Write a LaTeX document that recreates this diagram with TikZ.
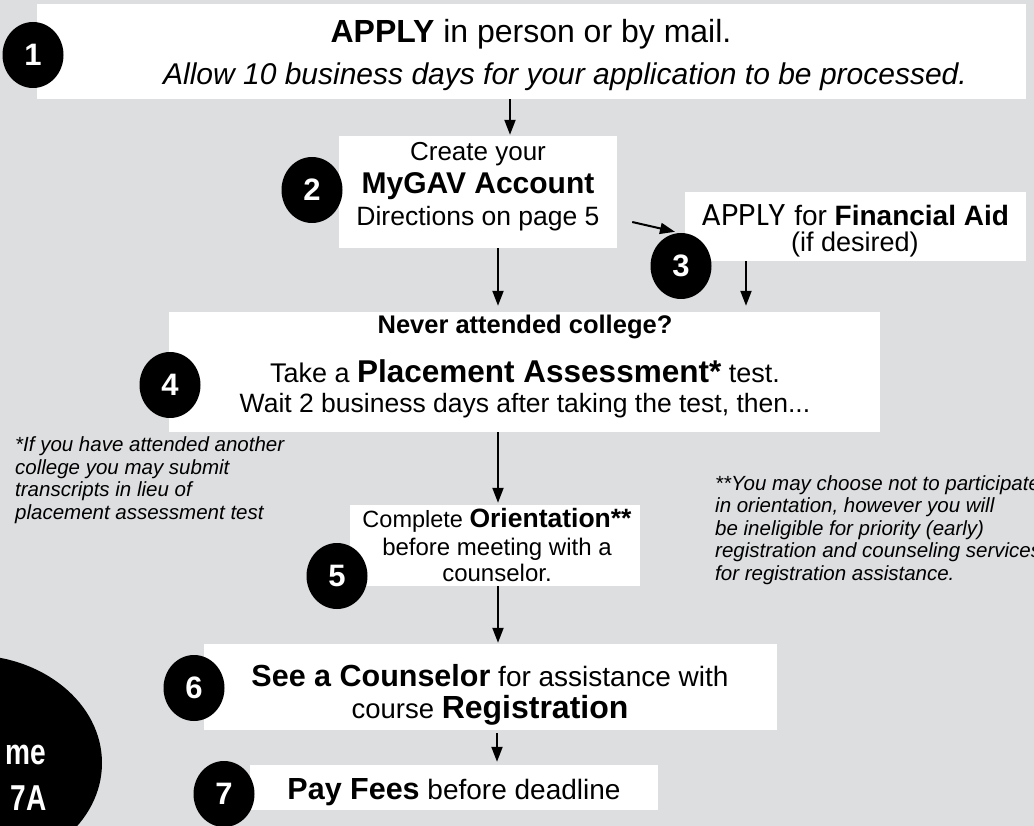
\documentclass[tikz,border=0pt]{standalone}
\usepackage{fontspec}
\setmainfont{Liberation Sans}
\newfontfamily\geo{Poppins}
\usetikzlibrary{shapes.geometric,arrows.meta}
\definecolor{bg}{RGB}{221,222,224}
\newcommand{\fs}[1]{\fontsize{#1}{#1}\selectfont}
\begin{document}
\begin{tikzpicture}[x=1pt,y=-1pt,
  box/.style={fill=white, inner sep=0pt, minimum width=#1},
  num/.style={ellipse, fill=black, text=white, inner sep=0pt, minimum width=61pt, minimum height=66pt, font=\fs{31}\bfseries},
  txt/.style={anchor=base, inner sep=0pt},
  note/.style={anchor=base west, inner sep=0pt, align=left, font=\fs{20.5}\itshape},
  arr/.style={line width=2pt, -{Triangle[length=15pt,width=11pt]}},
  big/.style={anchor=base east, inner sep=0pt, text=white, font=\fs{36}\bfseries, xscale=0.78}]
\useasboundingbox (0,0) rectangle (1034,826);
\clip (0,0) rectangle (1034,826);
\fill[bg] (0,0) rectangle (1034,826);

% big black ellipse bottom-left
\fill[black] (-30,763) ellipse [x radius=132, y radius=108];
\node[big] (hm) at (46,764) {me};
\node[big] (hr) at (47,810) {7A};

% boxes
\node[box=989pt, minimum height=95pt] (b1) at (531.5,51.5) {};
\node[box=278pt, minimum height=112pt] (b2) at (478,192) {};
\node[box=341pt, minimum height=69pt] (b3) at (855.5,226.5) {};
\node[box=711pt, minimum height=120pt] (b4) at (524.5,372) {};
\node[box=290pt, minimum height=81pt] (b5) at (495,545.5) {};
\node[box=573pt, minimum height=86pt] (b6) at (490.5,687) {};
\node[box=408pt, minimum height=45pt] (b7) at (454,787.5) {};

% texts
\node[txt, font=\fs{32}] (t1a) at (531,43) {\textbf{APPLY} in person or by mail.};
\node[txt, font=\fs{30}\itshape] (t1b) at (565,85) {Allow 10 business days for your application to be processed.};
\node[txt, font=\fs{26}] (t2a) at (478,161) {Create your};
\node[txt, font=\fs{30}\bfseries] (t2b) at (478,194) {MyGAV Account};
\node[txt, font=\fs{26.5}] (t2c) at (478,226) {Directions on page 5};
\node[txt, font=\fs{28}] (t3a) at (855,226) {{\geo\fs{30}APPLY} for \textbf{Financial Aid}};
\node[txt, font=\fs{27}] (t3b) at (855,252) {(if desired)};
\node[txt, font=\fs{25.5}\bfseries] (t4a) at (525,334) {Never attended college?};
\node[txt, font=\fs{27}] (t4b) at (525,383) {Take a {\bfseries\fs{31.5}Placement Assessment*} test.};
\node[txt, font=\fs{26.5}] (t4c) at (525,412) {Wait 2 business days after taking the test, then...};
\node[txt, font=\fs{23.5}] (t5a) at (497,527) {Complete {\bfseries\fs{26.5}Orientation**}};
\node[txt, font=\fs{24}] (t5b) at (497,555) {before meeting with a};
\node[txt, font=\fs{24}] (t5c) at (497,581) {counselor.};
\node[txt, font=\fs{28}] (t6a) at (490,686) {{\bfseries\fs{30.5}See a Counselor} for assistance with};
\node[txt, font=\fs{27.5}] (t6b) at (490,718) {course {\bfseries\fs{32}Registration}};
\node[txt, font=\fs{28}] (t7) at (454,799) {{\bfseries\fs{30.5}Pay Fees} before deadline};

% footnotes (anchor is the baseline of the last line)
\node[note] (n1) at (15,519) {*If you have attended another\\[2pt]college you may submit\\[2pt]transcripts in lieu of\\[2pt]placement assessment test};
\node[note] (n2) at (715,580) {**You may choose not to participate\\[2pt]in orientation, however you will\\[2pt]be ineligible for priority (early)\\[2pt]registration and counseling services\\[2pt]for registration assistance.};

% numbered circles
\node[num] (c1) at (33,55) {1};
\node[num] (c2) at (312,190) {2};
\node[num] (c3) at (681,266) {3};
\node[num] (c4) at (170,385) {4};
\node[num] (c5) at (337,576) {5};
\node[num] (c6) at (194,688) {6};
\node[num] (c7) at (224,794) {7};

% arrows
\draw[arr] ([xshift=-21.5pt]b1.south) -- ([xshift=32pt,yshift=1pt]b2.north);
\draw[arr] ([xshift=15pt,yshift=-30pt]b2.east) -- ([xshift=-6pt,yshift=1pt]c3.north);
\draw[arr] ([xshift=20pt]b2.south) -- ([xshift=-26.5pt,yshift=6pt]b4.north);
\draw[arr] ([xshift=-109.5pt]b3.south) -- ([xshift=221.5pt,yshift=6pt]b4.north);
\draw[arr] ([xshift=-26.5pt]b4.south) -- ([xshift=3pt,yshift=2pt]b5.north);
\draw[arr] ([xshift=3pt]b5.south) -- ([xshift=7.5pt,yshift=1pt]b6.north);
\draw[arr] ([xshift=6.5pt,yshift=-3pt]b6.south) -- ([xshift=43pt,yshift=3pt]b7.north);
\end{tikzpicture}
\end{document}
